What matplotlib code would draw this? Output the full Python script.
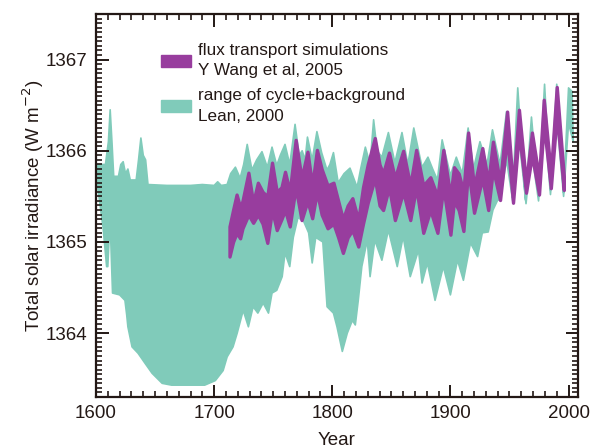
import numpy as np
import matplotlib
matplotlib.use('Agg')
import matplotlib.pyplot as plt
from matplotlib.patches import Patch
from matplotlib.ticker import MultipleLocator

plt.rcParams['font.family'] = ['Liberation Sans', 'DejaVu Sans']

# Lean (2000): range of cycle+background, upper edge
lean_up_year = [1600, 1608, 1610.5, 1612, 1613.5, 1615, 1619, 1621, 1623, 1625, 1627, 1629, 1634,
                1636, 1638, 1640, 1642, 1644, 1660, 1680, 1690, 1700, 1703, 1706, 1711, 1714,
                1718, 1722, 1725, 1728, 1732, 1736, 1740.5, 1745, 1749, 1753, 1756, 1760, 1764,
                1768.5, 1772, 1774.5, 1777, 1779, 1783, 1787, 1791, 1795.5, 1798, 1801, 1805,
                1810, 1815, 1821, 1824, 1828, 1832, 1835, 1838, 1842, 1847.5, 1853, 1859, 1864,
                1869, 1876, 1881, 1885, 1889, 1893, 1900, 1905, 1910, 1915, 1919.5, 1925, 1931,
                1935.6, 1942, 1947.5, 1952.5, 1957, 1963.5, 1968.6, 1974.6, 1979.7, 1984.7, 1990,
                1995.8, 2000, 2003, 2004]
lean_up = [1365.85, 1365.85, 1366.1, 1366.45, 1366.1, 1365.72, 1365.72, 1365.85, 1365.88, 1365.75,
           1365.8, 1365.68, 1365.68, 1365.9, 1366.14, 1365.95, 1365.9, 1365.63, 1365.62, 1365.62,
           1365.63, 1365.62, 1365.66, 1365.62, 1365.63, 1365.75, 1365.82, 1365.7, 1365.85, 1366.07,
           1365.79, 1365.9, 1365.99, 1365.82, 1366.04, 1365.84, 1365.95, 1366.07, 1365.85, 1366.29,
           1365.95, 1366.0, 1365.9, 1366.15, 1365.9, 1366.21, 1365.98, 1365.79, 1365.85, 1365.98,
           1365.65, 1365.75, 1365.81, 1365.6, 1365.8, 1366.04, 1365.85, 1366.34, 1366.0, 1365.93,
           1366.2, 1365.87, 1366.2, 1365.85, 1366.25, 1365.82, 1365.93, 1365.8, 1365.68, 1366.12,
           1365.73, 1365.93, 1365.75, 1366.25, 1365.8, 1366.1, 1365.85, 1366.23, 1365.85, 1366.43,
           1365.49, 1366.69, 1365.46, 1366.37, 1365.5, 1366.73, 1365.57, 1366.73, 1365.54, 1366.69,
           1366.65, 1366.1]

# lower edge
lean_lo_year = [1600, 1601.5, 1604, 1606, 1609, 1610, 1611, 1612.5, 1614, 1620, 1624.5, 1626, 1627,
                1630.5, 1635.6, 1641.5, 1647.5, 1656, 1664, 1692, 1701, 1707.6, 1711, 1716,
                1719.5, 1724.6, 1729, 1733, 1737, 1741.5, 1746, 1749, 1753, 1757.6, 1760, 1764,
                1767, 1771, 1776, 1780, 1783, 1786, 1792, 1795.6, 1801, 1804, 1808.5, 1812.7,
                1817, 1819.5, 1822, 1825, 1829.6, 1832, 1836, 1842, 1847.5, 1855, 1860, 1866,
                1873, 1876, 1880.5, 1887, 1894, 1900, 1906, 1911, 1917, 1923, 1927, 1932, 1936,
                1940, 1942, 1947.5, 1953, 1957.6, 1964, 1968.6, 1974.6, 1979.7, 1984.7, 1990,
                1995.8, 2000, 2004]
lean_lo = [1365.85, 1365.6, 1365.35, 1365.16, 1364.73, 1364.73, 1365.02, 1365.02, 1364.44, 1364.42,
           1364.36, 1364.2, 1364.07, 1363.85, 1363.78, 1363.67, 1363.56, 1363.45, 1363.43, 1363.43,
           1363.48, 1363.59, 1363.74, 1363.85, 1364.0, 1364.25, 1364.07, 1364.29, 1364.22, 1364.33,
           1364.22, 1364.44, 1364.47, 1364.62, 1364.88, 1364.73, 1365.05, 1365.27, 1365.22, 1365.1,
           1364.77, 1365.05, 1365.0, 1364.29, 1364.22, 1364.07, 1363.8, 1364.0, 1364.14, 1364.09,
           1364.36, 1364.73, 1365.02, 1364.62, 1365.02, 1364.8, 1365.13, 1364.73, 1365.06, 1364.62,
           1364.91, 1364.55, 1364.77, 1364.36, 1364.73, 1364.42, 1364.8, 1364.58, 1364.99, 1364.84,
           1365.1, 1365.11, 1365.35, 1365.46, 1365.46, 1365.9, 1365.43, 1366.2, 1365.42, 1366.0,
           1365.45, 1366.3, 1365.52, 1366.35, 1365.5, 1366.3, 1366.1]

# Wang et al (2005) flux transport simulations
wang_year = [1713, 1716, 1719, 1722, 1724, 1729, 1733, 1737, 1741, 1745, 1749, 1753, 1757, 1760,
             1764, 1769, 1774, 1779, 1783, 1787, 1791, 1796, 1801, 1805, 1809, 1813, 1817, 1822,
             1826, 1830, 1836, 1840, 1843, 1848, 1853, 1860, 1866, 1871, 1877, 1883, 1889, 1894,
             1900, 1903, 1907, 1911, 1915, 1920, 1927, 1932, 1936, 1942, 1948, 1953, 1958, 1964,
             1969, 1975, 1979, 1985, 1990, 1996]
wang_up = [1365.17, 1365.35, 1365.52, 1365.38, 1365.45, 1365.76, 1365.43, 1365.65, 1365.55, 1365.5,
           1365.87, 1365.55, 1365.6, 1365.77, 1365.55, 1366.12, 1365.7, 1365.99, 1365.62, 1366.01,
           1365.8, 1365.62, 1365.65, 1365.45, 1365.25, 1365.4, 1365.48, 1365.24, 1365.6, 1365.85,
           1366.14, 1365.85, 1365.75, 1365.98, 1365.7, 1366.0, 1365.62, 1366.01, 1365.62, 1365.71,
           1365.5, 1366.01, 1365.5, 1365.82, 1365.75, 1365.55, 1366.2, 1365.6, 1366.03, 1365.65,
           1366.1, 1365.65, 1366.43, 1365.6, 1366.45, 1365.65, 1366.2, 1365.7, 1366.56, 1365.75,
           1366.7, 1365.72]
wang_lo = [1364.84, 1365.0, 1365.1, 1365.04, 1365.15, 1365.3, 1365.21, 1365.3, 1365.2, 1364.99,
           1365.35, 1365.13, 1365.25, 1365.35, 1365.17, 1365.6, 1365.24, 1365.45, 1365.26, 1365.55,
           1365.3, 1365.15, 1365.2, 1365.05, 1364.88, 1365.05, 1365.13, 1364.95, 1365.2, 1365.43,
           1365.7, 1365.4, 1365.35, 1365.6, 1365.24, 1365.55, 1365.24, 1365.6, 1365.1, 1365.35,
           1365.1, 1365.6, 1365.08, 1365.45, 1365.35, 1365.12, 1365.8, 1365.32, 1365.7, 1365.35,
           1365.8, 1365.46, 1366.15, 1365.43, 1366.2, 1365.54, 1365.95, 1365.52, 1366.3, 1365.59,
           1366.4, 1365.57]

teal = '#80cbba'
purple = '#983d9e'
ink = '#231815'

fig = plt.figure(figsize=(5.92, 4.48), dpi=100)
ax = fig.add_axes([96 / 592, 51 / 448, 482 / 592, 383 / 448])

ax.fill(lean_up_year + lean_lo_year[::-1], lean_up + lean_lo[::-1],
        color=teal, lw=1.2, ec=teal, joinstyle='round')
ax.fill_between(wang_year, wang_lo, wang_up, color=purple, lw=2.4, ec=purple,
                joinstyle='round')

ax.set_xlim(1600, 2008)
ax.set_ylim(1363.3, 1367.5)
ax.xaxis.set_major_locator(MultipleLocator(100))
ax.xaxis.set_minor_locator(MultipleLocator(10))
ax.yaxis.set_major_locator(MultipleLocator(1))
ax.yaxis.set_minor_locator(MultipleLocator(0.05))
ax.tick_params(which='both', direction='in', top=True, right=True, color=ink,
               labelsize=13.5, labelcolor=ink)
ax.tick_params(which='major', length=9, width=1.4, pad=6)
ax.tick_params(which='minor', length=4.5, width=1.2)
for s in ax.spines.values():
    s.set_linewidth(1.6)
    s.set_color(ink)

ax.set_xlabel('Year', fontsize=13.5, color=ink, labelpad=7)
ax.set_ylabel('Total solar irradiance (W m$^{-2}$)', fontsize=13.5, color=ink, labelpad=0)

handles = [Patch(color=purple), Patch(color=teal)]
labels = ['flux transport simulations\nY Wang et al, 2005',
          'range of cycle+background\nLean, 2000']
leg = ax.legend(handles, labels, loc='upper left', bbox_to_anchor=(0.117, 0.947),
                frameon=False, fontsize=12.3, borderpad=0, handlelength=1.75,
                handleheight=0.7, handletextpad=0.4, labelspacing=0.6)
for t in leg.get_texts():
    t.set_linespacing(1.45)
    t.set_color(ink)

fig.savefig('out.png', dpi=100)
